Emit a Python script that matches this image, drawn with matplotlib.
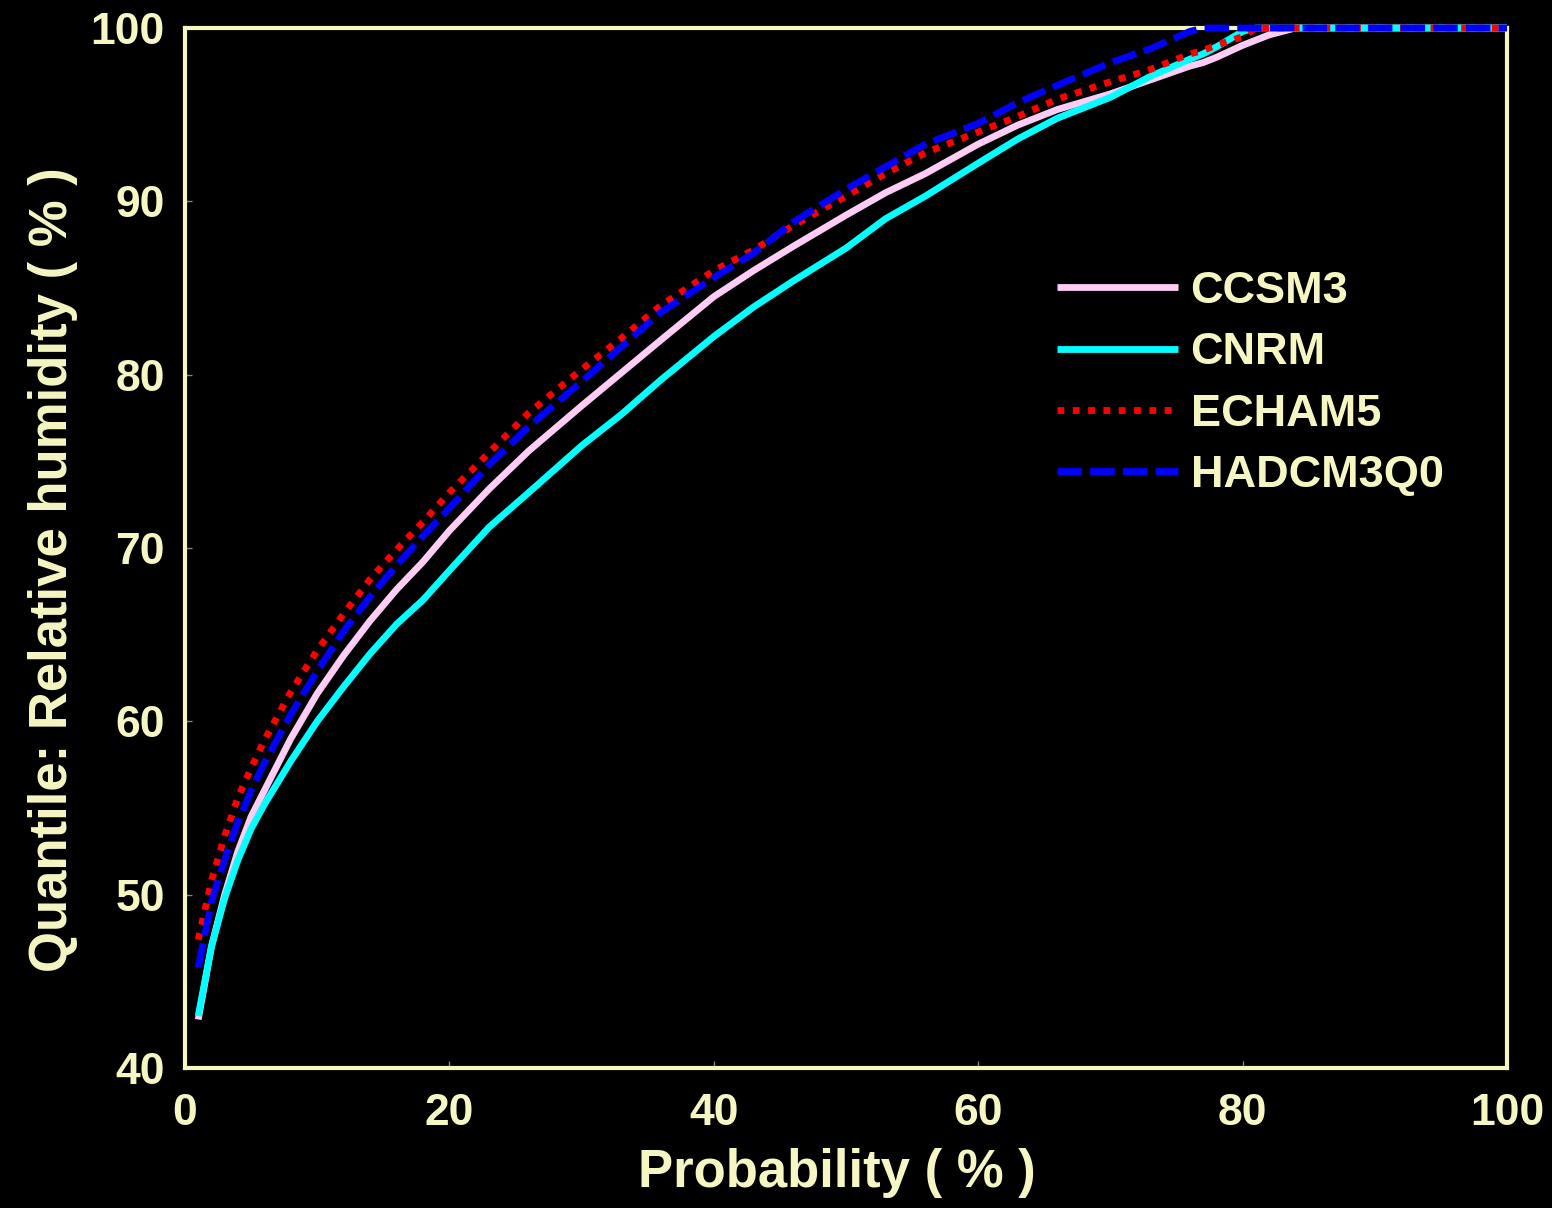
import matplotlib
matplotlib.use("Agg")
import matplotlib.pyplot as plt

probability = [1, 2, 3, 4, 5, 6, 8, 10, 12, 14, 16, 18, 20, 23, 26, 30, 33, 36, 40, 43,
               46, 50, 53, 56, 60, 63, 66, 70, 73, 76, 77, 78, 80, 81, 82, 84, 86, 90, 95, 100]

ccsm3 = [42.8, 47.0, 50.0, 52.5, 54.5, 56.0, 59.0, 61.6, 63.8, 65.8, 67.6, 69.2, 71.0, 73.4, 75.6,
         78.2, 80.1, 82.0, 84.5, 86.0, 87.4, 89.2, 90.5, 91.6, 93.3, 94.4, 95.3, 96.2, 97.0, 97.8,
         98.0, 98.3, 99.0, 99.3, 99.6, 100, 100, 100, 100, 100]
cnrm = [43.0, 47.0, 49.8, 52.0, 53.8, 55.2, 57.7, 60.0, 62.0, 63.9, 65.6, 67.0, 68.7, 71.2, 73.2,
        75.9, 77.7, 79.7, 82.2, 83.9, 85.4, 87.3, 89.0, 90.3, 92.2, 93.6, 94.8, 96.0, 97.2, 98.2,
        98.5, 98.9, 99.8, 100, 100, 100, 100, 100, 100, 100]
echam5 = [47.4, 50.8, 53.4, 55.6, 57.3, 58.9, 61.7, 64.1, 66.2, 68.2, 69.9, 71.5, 73.2, 75.5, 77.8,
          80.3, 82.1, 84.0, 86.0, 87.2, 88.6, 90.3, 91.6, 92.8, 94.0, 94.9, 95.9, 96.9, 97.6, 98.5,
          98.7, 99.0, 99.5, 100, 100, 100, 100, 100, 100, 100]
hadcm3q0 = [45.8, 49.6, 52.0, 54.2, 56.0, 57.6, 60.4, 62.9, 65.2, 67.2, 69.0, 70.7, 72.3, 74.8, 77.0,
            79.6, 81.6, 83.6, 85.6, 87.0, 88.8, 90.7, 92.0, 93.3, 94.5, 95.7, 96.7, 98.0, 98.8, 99.8,
            100, 100, 100, 100, 100, 100, 100, 100, 100, 100]

x_ticks = [0, 20, 40, 60, 80, 100]
y_ticks = [40, 50, 60, 70, 80, 90, 100]

TXT = "#F6F6C2"
plt.rcParams['font.family'] = ['Liberation Sans', 'DejaVu Sans']
plt.rcParams['font.weight'] = 'bold'

fig = plt.figure(figsize=(15.52, 12.08), dpi=100, facecolor="black")
ax = fig.add_axes([185/1552, 1-1068/1208, (1507-185)/1552, (1068-28)/1208])
ax.set_facecolor("black")

lw = 4.9
ax.plot(probability, ccsm3, color="#FFCCF5", lw=lw, solid_capstyle="butt", label="CCSM3", clip_on=False, zorder=3)
ax.plot(probability, cnrm, color="#00FFFF", lw=lw, solid_capstyle="butt", label="CNRM", clip_on=False, zorder=4)
ax.plot(probability, echam5, color="#FF0000", lw=lw, linestyle=(0, (1.0, 1.25)), dash_capstyle="butt",
        label="ECHAM5", clip_on=False, zorder=5)
ax.plot(probability, hadcm3q0, color="#0000FF", lw=lw, linestyle=(0, (3.6, 1.2)), dash_capstyle="butt",
        label="HADCM3Q0", clip_on=False, zorder=6)

ax.set_xlim(0, 100)
ax.set_ylim(40, 100)
ax.set_xticks(x_ticks)
ax.set_yticks(y_ticks)
ax.tick_params(direction="in", length=5, width=1, color="#888870", labelcolor=TXT, labelsize=32)
ax.tick_params(axis="x", pad=18)
ax.tick_params(axis="y", pad=14.5)
for s in ax.spines.values():
    s.set_color(TXT)
    s.set_linewidth(3)
    s.set_zorder(2)

ax.set_xlabel("Probability ( % )", color=TXT, fontsize=38, fontweight="bold")
ax.xaxis.set_label_coords(0.493, -0.077)
ax.set_ylabel("Quantile: Relative humidity ( % )", color=TXT, fontsize=38, fontweight="bold")
ax.yaxis.set_label_coords(-0.081, 0.479)

leg = ax.legend(loc="upper left", bbox_to_anchor=(1057/1552, 1-271/1208), bbox_transform=fig.transFigure,
                frameon=False, fontsize=32.5, handlelength=2.67, handletextpad=0.29, labelspacing=0.45,
                borderpad=0, borderaxespad=0)
for t in leg.get_texts():
    t.set_color(TXT)
    t.set_fontweight("bold")

fig.savefig("out.png", dpi=100, facecolor="black")
